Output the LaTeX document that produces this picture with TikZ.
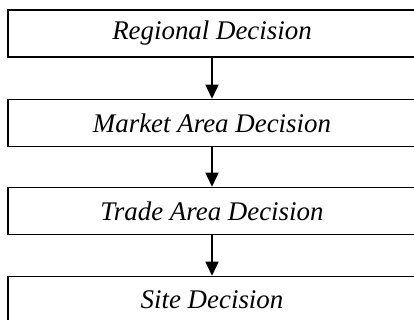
\documentclass[tikz,border=0pt]{standalone}
\usepackage{fontspec}
\setmainfont{Liberation Serif}
\usepackage{tikz}
\usetikzlibrary{arrows.meta}
\tikzset{ decision/.style = {rectangle, draw, line width=1.5bp, minimum width=408bp, minimum height=47bp, inner sep=0pt, align=center, font=\fontsize{27}{32}\selectfont\itshape} }
\tikzset{ every edge/.style = {line width=1.5bp} }

\begin{document}
\begin{tikzpicture}
        \clip (0,0) rectangle (414bp,320bp);
        \node[decision] (regional) at (212bp,286.5bp) {Regional Decision};
        \node[decision] (market) at (212bp,197bp) {Market Area Decision};
        \node[decision] (trade) at (212bp,109bp) {Trade Area Decision};
        \node[decision] (site) at (212bp,20bp) {Site Decision};
        \draw[line width=1.5bp, -{Triangle[width=13bp,length=14bp]}] (regional) -- (market);
        \draw[line width=1.5bp, -{Triangle[width=13bp,length=14bp]}] (market) -- (trade);
        \draw[line width=1.5bp, -{Triangle[width=13bp,length=14bp]}] (trade) -- (site);
    \end{tikzpicture}
\end{document}
